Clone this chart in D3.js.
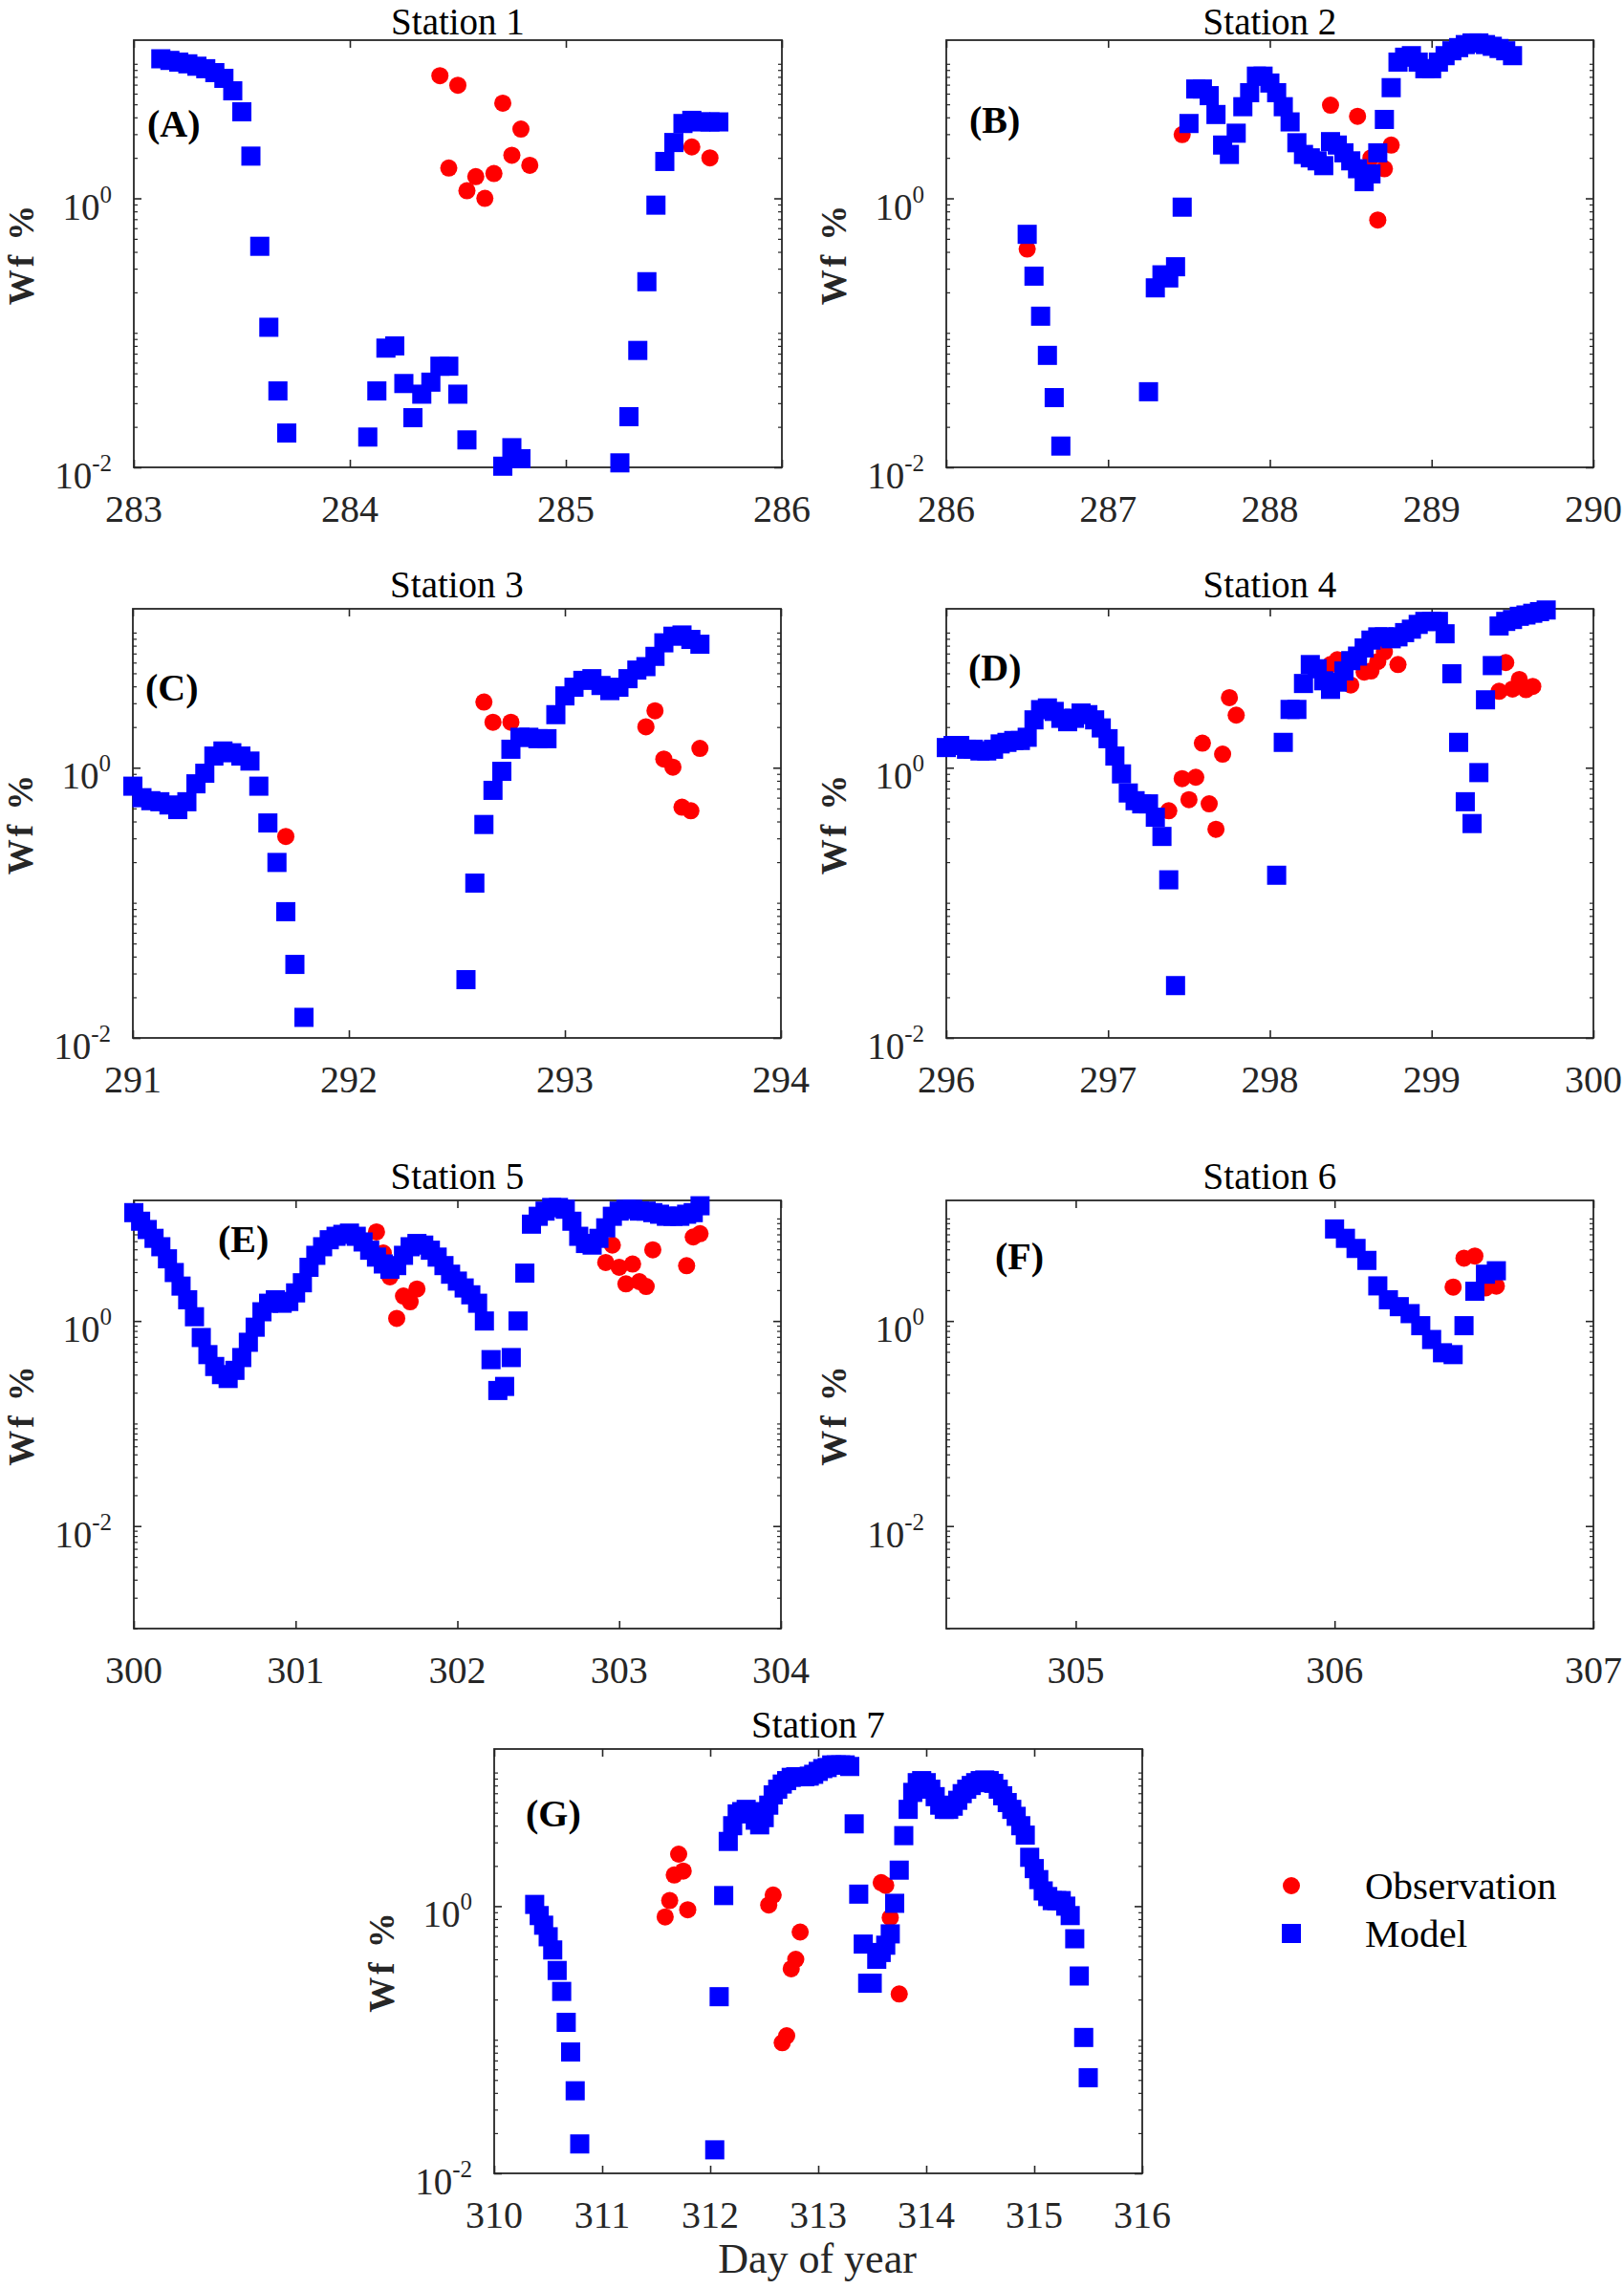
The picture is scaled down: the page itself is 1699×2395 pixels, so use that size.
<!DOCTYPE html>
<html><head><meta charset="utf-8">
<script src="https://cdn.jsdelivr.net/npm/d3@7"></script>
<style>html,body{margin:0;padding:0;background:#fff}</style>
</head><body>
<svg id="chart" width="1699" height="2395" xmlns="http://www.w3.org/2000/svg"></svg>
<script>
// ---------------- DATA ----------------
const stationTitles = ["Station 1","Station 2","Station 3","Station 4","Station 5","Station 6","Station 7"];
const panelLetters = ["(A)","(B)","(C)","(D)","(E)","(F)","(G)"];
const xDomains = [[283,286],[286,290],[291,294],[296,300],[300,304],[304.5,307],[310,316]];
const xTickValues = [[283,284,285,286],[286,287,288,289,290],[291,292,293,294],[296,297,298,299,300],[300,301,302,303,304],[305,306,307],[310,311,312,313,314,315,316]];
const yDomains = [[0.01,15],[0.01,15],[0.01,15],[0.01,15],[0.001,15],[0.001,15],[0.01,15]];
const yTickValues = [0.01, 1];
const yTickExponents = ["-2","0"];
const legendLabels = ["Observation","Model"];
const xAxisTitle = "Day of year";
const yAxisTitle = "Wf %";

const station1Model = [[283.125,10.9],[283.167,10.6],[283.208,10.3],[283.25,10.0],[283.292,9.6],[283.333,9.2],[283.375,8.6],[283.417,7.8],[283.458,6.3],[283.5,4.4],[283.542,2.06],[283.583,0.44],[283.625,0.11],[283.667,0.037],[283.708,0.018],
[284.083,0.0168],[284.125,0.037],[284.167,0.077],[284.208,0.08],[284.25,0.042],[284.292,0.0234],[284.333,0.035],[284.375,0.043],[284.417,0.0565],[284.458,0.0565],[284.5,0.035],[284.542,0.016],[284.708,0.0102],[284.75,0.014],[284.792,0.0116],
[285.25,0.0108],[285.292,0.0238],[285.333,0.074],[285.375,0.24],[285.417,0.89],[285.458,1.88],[285.5,2.6],[285.542,3.6],[285.583,3.8],[285.625,3.7],[285.667,3.7],[285.708,3.7]];
const station1Obs = [[284.417,8.17],[284.458,1.68],[284.5,6.93],[284.542,1.14],[284.583,1.45],[284.625,1.0],[284.667,1.53],[284.708,5.1],[284.75,2.09],[284.792,3.27],[284.833,1.76],[285.583,2.41],[285.667,2.0]];

const station2Model = [[286.5,0.54],[286.542,0.264],[286.583,0.133],[286.625,0.068],[286.667,0.033],[286.708,0.0144],
[287.25,0.0365],[287.292,0.216],[287.333,0.27],[287.375,0.256],[287.417,0.31],[287.458,0.86],[287.5,3.6],[287.542,6.5],[287.583,6.5],[287.625,5.8],[287.667,4.2],[287.708,2.49],[287.75,2.12],[287.792,3.05],[287.833,4.8],[287.875,6.1],[287.917,8.1],[287.958,8.1],[288.0,7.2],[288.042,6.1],[288.083,4.8],[288.125,3.7],[288.167,2.59],[288.208,2.12],[288.25,2.0],[288.292,1.9],[288.333,1.75],[288.375,2.64],[288.417,2.49],[288.458,2.18],[288.5,1.9],[288.542,1.66],[288.583,1.33],[288.625,1.52],[288.667,2.18],[288.708,3.86],[288.75,6.65],[288.792,10.3],[288.833,11.2],[288.875,11.5],[288.917,10.3],[288.958,9.2],[289.0,9.2],[289.042,10.3],[289.083,11.5],[289.125,12.5],[289.167,13.2],[289.208,13.9],[289.25,14.3],[289.292,14.3],[289.333,13.9],[289.375,13.5],[289.417,13.0],[289.458,12.5],[289.5,11.5]];
const station2Obs = [[286.5,0.42],[287.458,2.98],[288.375,4.93],[288.542,4.07],[288.625,2.0],[288.667,0.69],[288.708,1.66],[288.75,2.49]];

const station3Model = [[291.0,0.73],[291.042,0.6],[291.083,0.57],[291.125,0.56],[291.167,0.53],[291.208,0.49],[291.25,0.56],[291.292,0.76],[291.333,0.91],[291.375,1.22],[291.417,1.33],[291.458,1.29],[291.5,1.22],[291.542,1.12],[291.583,0.73],[291.625,0.39],[291.667,0.199],[291.708,0.086],[291.75,0.035],[291.792,0.0142],
[292.542,0.027],[292.583,0.14],[292.625,0.38],[292.667,0.68],[292.708,0.94],[292.75,1.37],[292.792,1.68],[292.833,1.68],[292.875,1.64],[292.917,1.64],[292.958,2.47],[293.0,3.4],[293.042,3.94],[293.083,4.43],[293.125,4.56],[293.167,4.06],[293.208,3.72],[293.25,3.94],[293.292,4.56],[293.333,5.28],[293.375,5.6],[293.417,6.67],[293.458,8.4],[293.5,9.4],[293.542,9.6],[293.583,8.9],[293.625,8.2]];
const station3Obs = [[291.708,0.31],[292.625,3.06],[292.667,2.17],[292.75,2.17],[293.375,2.01],[293.417,2.64],[293.458,1.16],[293.5,1.01],[293.542,0.51],[293.583,0.48],[293.625,1.39]];

const station4Model = [[296.0,1.41],[296.042,1.46],[296.083,1.46],[296.125,1.37],[296.167,1.37],[296.208,1.33],[296.25,1.33],[296.292,1.37],[296.333,1.5],[296.375,1.54],[296.417,1.59],[296.458,1.59],[296.5,1.68],[296.542,2.26],[296.583,2.69],[296.625,2.77],[296.667,2.61],[296.708,2.32],[296.75,2.19],[296.792,2.32],[296.833,2.54],[296.875,2.47],[296.917,2.26],[296.958,1.97],[297.0,1.64],[297.042,1.22],[297.083,0.9],[297.125,0.65],[297.167,0.57],[297.208,0.54],[297.25,0.54],[297.292,0.43],[297.333,0.31],[297.375,0.148],[297.417,0.0244],
[298.042,0.16],[298.083,1.54],[298.125,2.7],[298.167,2.7],[298.208,4.2],[298.25,5.8],[298.292,5.4],[298.333,4.4],[298.375,3.8],[298.417,4.3],[298.458,5.2],[298.5,6.2],[298.542,6.7],[298.583,7.7],[298.625,8.8],[298.667,9.3],[298.708,9.3],[298.75,9.0],[298.792,9.3],[298.833,10.0],[298.875,10.6],[298.917,11.5],[298.958,12.1],[299.0,12.1],[299.042,12.1],[299.083,9.8],[299.125,4.96],[299.167,1.54],[299.208,0.56],[299.25,0.386],[299.292,0.92],[299.333,3.18],[299.375,5.7],[299.417,11.2],[299.458,12.1],[299.5,12.5],[299.542,13.2],[299.583,13.5],[299.625,13.9],[299.667,14.3],[299.708,14.7]];
const station4Obs = [[297.375,0.48],[297.458,0.83],[297.5,0.58],[297.542,0.85],[297.583,1.52],[297.625,0.54],[297.667,0.35],[297.708,1.26],[297.75,3.3],[297.792,2.45],[298.375,5.8],[298.417,6.3],[298.5,4.1],[298.583,5.1],[298.625,5.2],[298.667,6.1],[298.708,7.2],[298.792,5.8],[299.417,3.68],[299.458,6.0],[299.5,3.82],[299.542,4.5],[299.583,3.78],[299.625,4.0]];

const station5Model = [[300.0,11.4],[300.042,9.4],[300.083,7.8],[300.125,6.4],[300.167,5.3],[300.208,4.04],[300.25,2.97],[300.292,2.19],[300.333,1.61],[300.375,1.1],[300.417,0.69],[300.458,0.47],[300.5,0.36],[300.542,0.3],[300.583,0.275],[300.625,0.33],[300.667,0.44],[300.708,0.62],[300.75,0.87],[300.792,1.23],[300.833,1.49],[300.875,1.61],[300.917,1.49],[300.958,1.55],
[301.0,1.88],[301.042,2.36],[301.083,3.34],[301.125,4.37],[301.167,5.3],[301.208,6.2],[301.25,6.7],[301.292,7.0],[301.333,7.2],[301.375,6.7],[301.417,5.9],[301.458,4.9],[301.5,4.2],[301.542,3.6],[301.583,3.2],[301.625,3.47],[301.667,4.37],[301.708,5.3],[301.75,5.7],[301.792,5.5],[301.833,4.9],[301.875,4.2],[301.917,3.47],[301.958,2.86],
[302.0,2.45],[302.042,2.1],[302.083,1.8],[302.125,1.49],[302.167,1.0],[302.208,0.42],[302.25,0.21],[302.292,0.23],[302.333,0.44],[302.375,1.0],[302.417,2.93],[302.458,8.8],[302.5,10.5],[302.542,11.8],[302.583,12.8],[302.625,12.8],[302.667,12.3],[302.708,9.4],[302.75,6.7],[302.792,5.7],[302.833,5.5],[302.875,6.4],[302.917,8.1],[302.958,10.5],
[303.0,11.8],[303.042,12.3],[303.083,12.3],[303.125,11.8],[303.167,11.8],[303.208,11.4],[303.25,11.0],[303.292,10.5],[303.333,10.5],[303.375,10.5],[303.417,11.0],[303.458,11.4],[303.5,13.3]];
const station5Obs = [[301.5,7.4],[301.542,4.6],[301.583,2.7],[301.625,1.06],[301.667,1.75],[301.708,1.54],[301.75,2.05],[302.917,3.72],[302.958,5.5],[303.0,3.34],[303.042,2.3],[303.083,3.59],[303.125,2.42],[303.167,2.17],[303.208,4.95],[303.417,3.46],[303.458,6.6],[303.5,7.1]];

const station6Model = [[306.0,7.9],[306.042,6.4],[306.083,5.1],[306.125,3.9],[306.167,2.2],[306.208,1.61],[306.25,1.38],[306.292,1.18],[306.333,0.9],[306.375,0.66],[306.417,0.49],[306.458,0.47],[306.5,0.9],[306.542,1.95],[306.583,2.86],[306.625,3.09]];
const station6Obs = [[306.458,2.14],[306.5,4.1],[306.542,4.3],[306.583,2.1],[306.625,2.19]];

const station7Model = [[310.375,1.03],[310.417,0.85],[310.458,0.72],[310.5,0.59],[310.542,0.47],[310.583,0.33],[310.625,0.23],[310.667,0.135],[310.708,0.081],[310.75,0.0415],[310.792,0.0166],
[312.042,0.015],[312.083,0.21],[312.125,1.2],[312.167,3.05],[312.208,4.0],[312.25,4.9],[312.292,5.1],[312.333,5.3],[312.375,5.1],[312.417,4.4],[312.458,4.06],[312.5,4.6],[312.542,5.7],[312.583,6.8],[312.625,7.5],[312.667,8.2],[312.708,8.7],[312.75,9.2],[312.792,9.3],[312.833,9.3],[312.875,9.3],[312.917,9.4],[312.958,9.7],
[313.0,10.2],[313.042,10.7],[313.083,10.9],[313.125,11.4],[313.167,11.4],[313.208,11.4],[313.25,11.4],[313.292,11.1],[313.333,4.13],[313.375,1.23],[313.417,0.52],[313.458,0.265],[313.5,0.265],[313.542,0.4],[313.583,0.45],[313.625,0.51],[313.667,0.62],[313.708,1.05],[313.75,1.86],[313.792,3.37],[313.833,5.3],[313.875,7.1],[313.917,8.4],[313.958,8.7],
[314.0,8.4],[314.042,7.5],[314.083,6.6],[314.125,5.7],[314.167,5.3],[314.208,5.3],[314.25,5.6],[314.292,6.2],[314.333,6.95],[314.375,7.5],[314.417,8.0],[314.458,8.4],[314.5,8.7],[314.542,8.8],[314.583,8.7],[314.625,8.3],[314.667,7.5],[314.708,6.7],[314.75,5.96],[314.792,5.3],[314.833,4.7],[314.875,4.0],[314.917,3.4],[314.958,2.32],
[315.0,1.91],[315.042,1.58],[315.083,1.3],[315.125,1.18],[315.167,1.1],[315.208,1.1],[315.25,1.1],[315.292,1.0],[315.333,0.85],[315.375,0.57],[315.417,0.3],[315.458,0.104],[315.5,0.052]];
const station7Obs = [[311.583,0.83],[311.625,1.1],[311.667,1.71],[311.708,2.45],[311.75,1.83],[311.792,0.94],[312.542,1.02],[312.583,1.21],[312.667,0.095],[312.708,0.107],[312.75,0.34],[312.792,0.4],[312.833,0.64],[313.583,1.5],[313.625,1.43],[313.667,0.82],[313.75,0.22]];

const modelSeries = [station1Model, station2Model, station3Model, station4Model, station5Model, station6Model, station7Model];
const obsSeries = [station1Obs, station2Obs, station3Obs, station4Obs, station5Obs, station6Obs, station7Obs];

// ---------------- LAYOUT / STYLE ----------------
const FONT = "'Liberation Serif','Times New Roman',Times,serif";
const INK = "#262626";
const BLUE = "#0000ff", RED = "#ff0000";
const SQ = 20, R = 9;
const panels = [
  {l:140, r:818, t:42,   b:489,  lx:154,  ly:143, tb:36},
  {l:990, r:1667,t:42,   b:489,  lx:1014, ly:139, tb:36},
  {l:139, r:817, t:637,  b:1086, lx:152,  ly:733, tb:625},
  {l:990, r:1667,t:637,  b:1086, lx:1013, ly:712, tb:625},
  {l:140, r:817, t:1256, b:1704, lx:228,  ly:1310, tb:1244},
  {l:990, r:1667,t:1256, b:1704, lx:1041, ly:1328, tb:1244},
  {l:517, r:1195,t:1830, b:2274, lx:550,  ly:1911, tb:1818}
];

const svg = d3.select("#chart");
svg.append("rect").attr("width",1699).attr("height",2395).attr("fill","#fff");

function minorTicks(dom){
  const out=[];
  const k0=Math.floor(Math.log10(dom[0])), k1=Math.ceil(Math.log10(dom[1]));
  for(let k=k0;k<=k1;k++){
    for(let m=1;m<=9;m++){
      const v=m*Math.pow(10,k);
      if(v>=dom[0]*0.999 && v<=dom[1]*1.001 && !yTickValues.some(t=>Math.abs(t-v)<1e-12)) out.push(v);
    }
  }
  return out;
}

panels.forEach((p,i)=>{
  const x = d3.scaleLinear().domain(xDomains[i]).range([p.l,p.r]);
  const y = d3.scaleLog().domain(yDomains[i]).range([p.b,p.t]);
  const g = svg.append("g");

  // frame
  g.append("rect").attr("x",p.l).attr("y",p.t).attr("width",p.r-p.l).attr("height",p.b-p.t)
    .attr("fill","none").attr("stroke",INK).attr("stroke-width",1.8);

  const styleAxis = (sel, w)=>{ sel.select(".domain").remove(); sel.selectAll(".tick line").attr("stroke",INK).attr("stroke-width",w); sel.selectAll(".tick text").remove(); };
  const yMinor = minorTicks(yDomains[i]);
  g.append("g").attr("transform",`translate(0,${p.b})`).call(d3.axisBottom(x).tickValues(xTickValues[i]).tickSize(-8).tickFormat("")).call(s=>styleAxis(s,1.6));
  g.append("g").attr("transform",`translate(0,${p.t})`).call(d3.axisTop(x).tickValues(xTickValues[i]).tickSize(-8).tickFormat("")).call(s=>styleAxis(s,1.6));
  g.append("g").attr("transform",`translate(${p.l},0)`).call(d3.axisLeft(y).tickValues(yTickValues).tickSize(-8).tickFormat("")).call(s=>styleAxis(s,1.6));
  g.append("g").attr("transform",`translate(${p.r},0)`).call(d3.axisRight(y).tickValues(yTickValues).tickSize(-8).tickFormat("")).call(s=>styleAxis(s,1.6));
  g.append("g").attr("transform",`translate(${p.l},0)`).call(d3.axisLeft(y).tickValues(yMinor).tickSize(-4).tickFormat("")).call(s=>styleAxis(s,1.2));
  g.append("g").attr("transform",`translate(${p.r},0)`).call(d3.axisRight(y).tickValues(yMinor).tickSize(-4).tickFormat("")).call(s=>styleAxis(s,1.2));

  // x tick labels
  g.selectAll(".xl").data(xTickValues[i]).enter().append("text")
    .attr("x",d=>x(d)).attr("y",p.b+57).attr("text-anchor","middle")
    .attr("font-family",FONT).attr("font-size",40).attr("fill",INK).text(d=>d);

  // y tick labels 10^k
  yTickValues.forEach((v,j)=>{
    const t = g.append("text").attr("x",p.l-23).attr("y",y(v)+22).attr("text-anchor","end")
      .attr("font-family",FONT).attr("font-size",39).attr("fill",INK);
    t.append("tspan").text("10");
    t.append("tspan").attr("font-size",25).attr("dy",-18).text(yTickExponents[j]);
  });

  // title
  g.append("text").attr("x",(p.l+p.r)/2).attr("y",p.tb).attr("text-anchor","middle")
    .attr("font-family",FONT).attr("font-size",39).attr("fill","#000").text(stationTitles[i]);

  // y axis title
  g.append("text").attr("transform",`translate(${p.l-105},${(p.t+p.b)/2}) rotate(-90)`)
    .attr("text-anchor","middle").attr("font-family",FONT).attr("font-weight","bold")
    .attr("font-size",37).attr("fill",INK).attr("letter-spacing",3).text(yAxisTitle);

  // observations (below)
  g.selectAll(".obs").data(obsSeries[i]).enter().append("circle")
    .attr("cx",d=>x(d[0])).attr("cy",d=>y(d[1])).attr("r",R).attr("fill",RED);
  // model (on top)
  g.selectAll(".mod").data(modelSeries[i]).enter().append("rect")
    .attr("x",d=>x(d[0])-SQ/2).attr("y",d=>y(d[1])-SQ/2).attr("width",SQ).attr("height",SQ).attr("fill",BLUE);

  // panel letter
  g.append("text").attr("x",p.lx).attr("y",p.ly).attr("font-family",FONT).attr("font-weight","bold")
    .attr("font-size",40).attr("fill","#000").text(panelLetters[i]);
});

// x axis title
svg.append("text").attr("x",855).attr("y",2378).attr("text-anchor","middle")
  .attr("font-family",FONT).attr("font-size",44).attr("fill",INK).text(xAxisTitle);

// legend
const lg = svg.append("g");
lg.append("circle").attr("cx",1351).attr("cy",1973).attr("r",R).attr("fill",RED);
lg.append("rect").attr("x",1351-SQ/2).attr("y",2023-SQ/2).attr("width",SQ).attr("height",SQ).attr("fill",BLUE);
lg.append("text").attr("x",1428).attr("y",1987).attr("font-family",FONT).attr("font-size",41).attr("fill","#000").text(legendLabels[0]);
lg.append("text").attr("x",1428).attr("y",2037).attr("font-family",FONT).attr("font-size",41).attr("fill","#000").text(legendLabels[1]);
</script>
</body></html>
